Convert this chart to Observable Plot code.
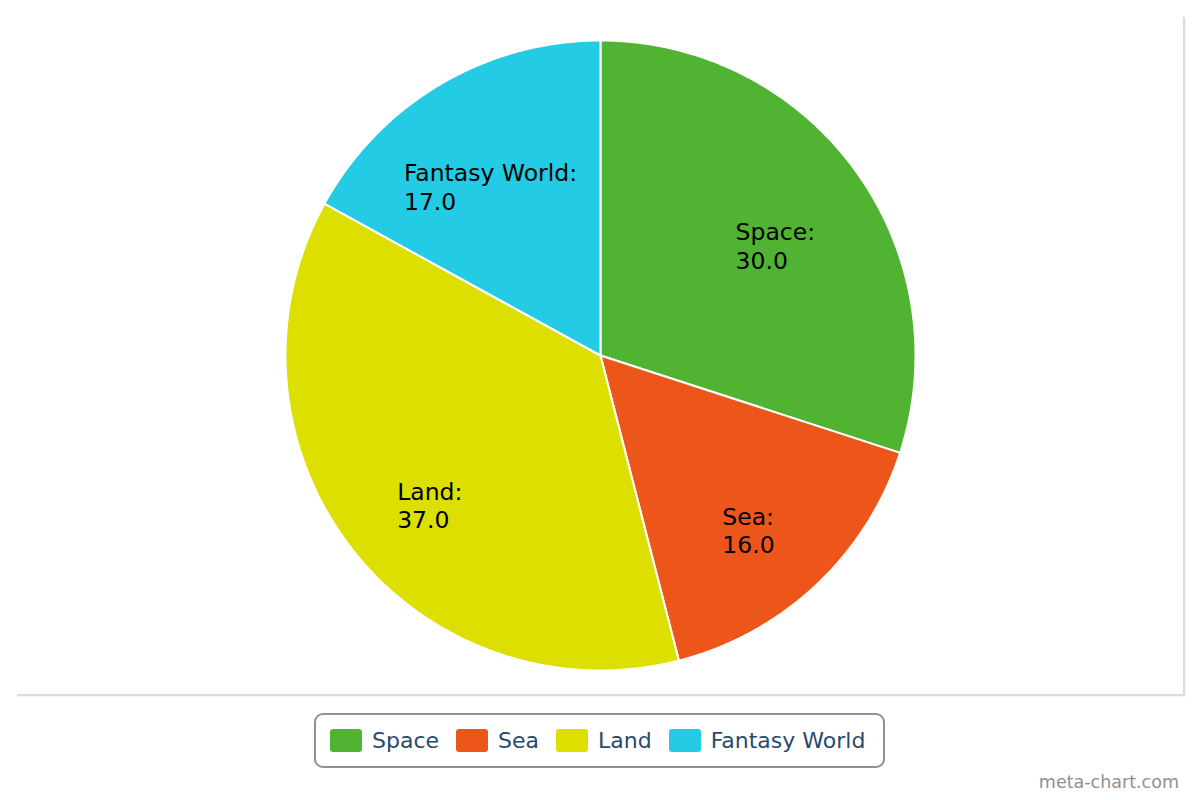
<!DOCTYPE html>
<html>
<head>
<meta charset="utf-8">
<script src="https://cdn.jsdelivr.net/npm/d3@7"></script>
<script src="https://cdn.jsdelivr.net/npm/@observablehq/plot@0.6"></script>
<style>
  html, body { margin: 0; padding: 0; background: #fff; }
  #page { position: relative; width: 1200px; height: 800px; overflow: hidden; font-family: "DejaVu Sans", Verdana, sans-serif; }
  #chart { position: absolute; left: 0; top: 0; }
  .edge-r { position: absolute; left: 1183px; top: 17px; width: 2px; height: 679px; background: #dcdcdc; box-shadow: 1px 0 2px rgba(0,0,0,0.06); }
  .edge-b { position: absolute; left: 17px; top: 694px; width: 1168px; height: 2px; background: #dcdcdc; box-shadow: 0 1px 2px rgba(0,0,0,0.06); }
  #legend { position: absolute; left: 314px; top: 713px; width: 571px; height: 55px; border: 2px solid #919191; border-radius: 9px; display: flex; align-items: center; padding-left: 14px; box-sizing: border-box; }
  .item { display: flex; align-items: center; margin-right: 17px; font-size: 22px; color: #274b6d; white-space: nowrap; }
  .sw { width: 32px; height: 23px; border-radius: 3px; margin-right: 10px; }
  #credit { position: absolute; right: 21px; top: 772px; font-size: 17.5px; color: #909090; }
</style>
</head>
<body>
<div id="page">
  <div id="chart"></div>
  <div class="edge-r"></div>
  <div class="edge-b"></div>
  <div id="legend"></div>
  <div id="credit">meta-chart.com</div>
</div>
<script>
// ---- data ----
const categories = ["Space", "Sea", "Land", "Fantasy World"];
const values = [30.0, 16.0, 37.0, 17.0];
const colors = ["#50B432", "#ED561B", "#DDDF00", "#24CBE5"];

// ---- layout ----
const W = 1200, H = 700;
const CX = 600, CY = 355, R = 315;           // pixel centre and radius
const LABEL_R = 0.686;                        // label radius (fraction of R)
const LABEL_FONT = 23.5;

const total = d3.sum(values);
const rows = [];
const slices = [];
let acc = 0;
categories.forEach((c, i) => {
  const a0 = acc / total * 2 * Math.PI;
  acc += values[i];
  const a1 = acc / total * 2 * Math.PI;
  slices.push({key: c, value: values[i], a0, a1});
  const n = Math.max(2, Math.ceil((a1 - a0) / (Math.PI / 360)));
  rows.push({key: c, x: 0, y: 0});
  for (let k = 0; k <= n; k++) {
    const a = a0 + (a1 - a0) * k / n;
    rows.push({key: c, x: Math.sin(a), y: Math.cos(a)});
  }
  rows.push({key: c, x: 0, y: 0});
});

// measure label widths to centre a left-aligned two-line block
const ctx = document.createElement("canvas").getContext("2d");
ctx.font = `${LABEL_FONT}px "DejaVu Sans"`;
const labels = slices.map(s => {
  const mid = (s.a0 + s.a1) / 2;
  const text = `${s.key}:\n${s.value.toFixed(1)}`;
  const w = Math.max(...text.split("\n").map(t => ctx.measureText(t).width));
  return {
    key: s.key,
    text,
    x: LABEL_R * Math.sin(mid) - (w / 2) / R,
    y: LABEL_R * Math.cos(mid)
  };
});

const chart = Plot.plot({
  width: W,
  height: H,
  margin: 0,
  x: {domain: [-CX / R, (W - CX) / R], axis: null},
  y: {domain: [-(H - CY) / R, CY / R], axis: null},
  color: {domain: categories, range: colors},
  style: {background: "transparent", fontFamily: "DejaVu Sans"},
  marks: [
    Plot.line(rows, {x: "x", y: "y", z: "key", fill: "key", stroke: "#fff", strokeWidth: 2, strokeLinejoin: "round", curve: "linear"}),
    Plot.text(labels, {x: "x", y: "y", text: "text", textAnchor: "start", lineAnchor: "middle", lineHeight: 1.2, dy: 17, fontSize: LABEL_FONT, fill: "#000"})
  ]
});
document.getElementById("chart").appendChild(chart);

// legend
const legend = document.getElementById("legend");
categories.forEach((c, i) => {
  const it = document.createElement("div");
  it.className = "item";
  const sw = document.createElement("div");
  sw.className = "sw";
  sw.style.background = colors[i];
  const t = document.createElement("span");
  t.textContent = c;
  it.appendChild(sw);
  it.appendChild(t);
  legend.appendChild(it);
});
</script>
</body>
</html>
